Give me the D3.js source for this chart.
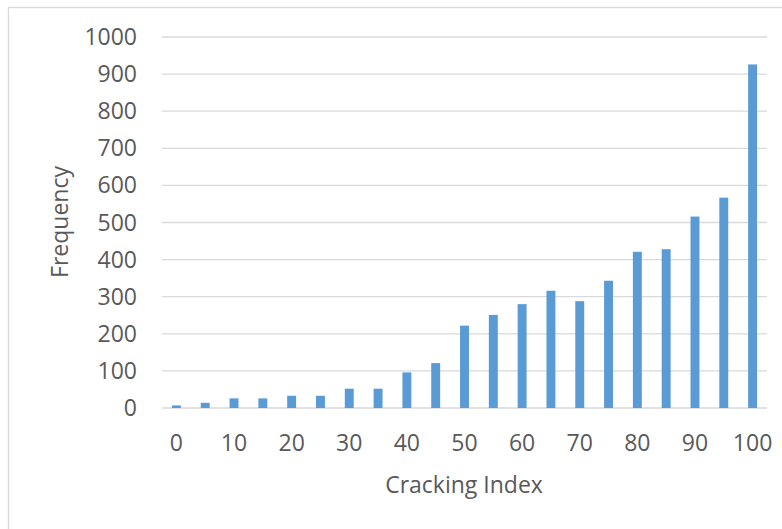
<!DOCTYPE html>
<meta charset="utf-8">
<style>
body { margin: 0; background: #fff; }
svg { display: block; }
text { font-family: "Open Sans", "Liberation Sans", sans-serif; fill: #595959; }
</style>
<svg width="782" height="529"></svg>
<script src="https://d3js.org/d3.v7.min.js"></script>
<script>

var categories = [0, 5, 10, 15, 20, 25, 30, 35, 40, 45, 50, 55, 60, 65, 70, 75, 80, 85, 90, 95, 100];
var frequency = [7, 14, 26, 26, 33, 33, 52, 52, 96, 121, 222, 251, 280, 316, 288, 343, 421, 428, 516, 567, 926];
var xTickLabels = [0, 10, 20, 30, 40, 50, 60, 70, 80, 90, 100];
var yTicks = [0, 100, 200, 300, 400, 500, 600, 700, 800, 900, 1000];

var svg = d3.select("svg");

// chart border
svg.append("rect")
    .attr("x", 8.5)
    .attr("y", 7.5)
    .attr("width", 800)
    .attr("height", 560)
    .attr("fill", "none")
    .attr("stroke", "#d9d9d9")
    .attr("stroke-width", 1.3);

var x = d3.scaleBand()
    .domain(categories)
    .range([162, 767])
    .paddingInner(0.69)
    .paddingOuter(0.345);

var y = d3.scaleLinear()
    .domain([0, 1000])
    .range([408, 37]);

// gridlines
svg.append("g")
  .selectAll("line")
  .data(yTicks)
  .enter().append("line")
    .attr("x1", 162)
    .attr("x2", 767)
    .attr("y1", function(d) { return y(d); })
    .attr("y2", function(d) { return y(d); })
    .attr("stroke", "#d9d9d9")
    .attr("stroke-width", 1.3);

// bars
svg.append("g")
  .selectAll("rect")
  .data(frequency)
  .enter().append("rect")
    .attr("x", function(d, i) { return x(categories[i]); })
    .attr("width", x.bandwidth())
    .attr("y", function(d) { return y(d); })
    .attr("height", function(d) { return y(0) - y(d); })
    .attr("fill", "#5b9bd5");

// y tick labels
svg.append("g")
  .selectAll("text")
  .data(yTicks)
  .enter().append("text")
    .attr("x", 137)
    .attr("y", function(d) { return y(d); })
    .attr("dy", "0.35em")
    .attr("text-anchor", "end")
    .style("font-size", "23px")
    .text(function(d) { return d; });

// x tick labels
svg.append("g")
  .selectAll("text")
  .data(xTickLabels)
  .enter().append("text")
    .attr("x", function(d) { return x(d) + x.bandwidth() / 2; })
    .attr("y", 443)
    .attr("dy", "0.35em")
    .attr("text-anchor", "middle")
    .style("font-size", "23px")
    .text(function(d) { return d; });

svg.append("text")
    .attr("x", 464)
    .attr("y", 485)
    .attr("dy", "0.35em")
    .attr("text-anchor", "middle")
    .style("font-size", "23px")
    .text("Cracking Index");

svg.append("text")
    .attr("transform", "translate(60,222) rotate(-90)")
    .attr("dy", "0.35em")
    .attr("text-anchor", "middle")
    .style("font-size", "23px")
    .text("Frequency");

</script>
